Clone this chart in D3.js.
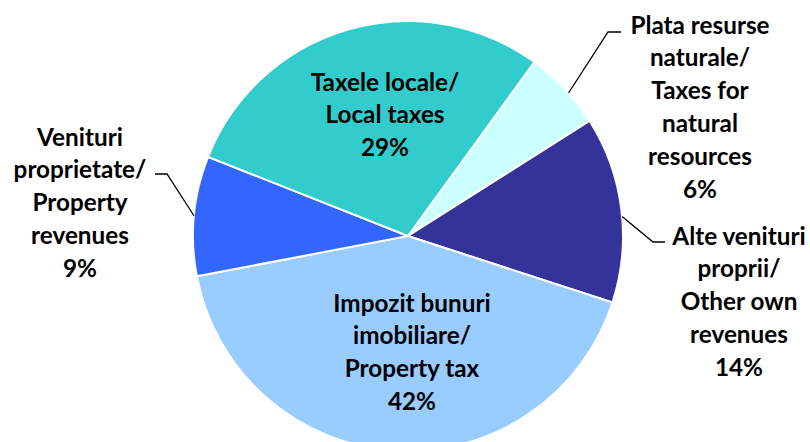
<!DOCTYPE html>
<html>
<head>
<meta charset="utf-8">
<script src="https://cdn.jsdelivr.net/npm/d3@7"></script>
<style>
html,body{margin:0;padding:0;background:#fff;}
svg{display:block;}
</style>
</head>
<body>
<svg id="chart" width="810" height="442"></svg>
<script>
// Data (clockwise order starting after "Taxele locale")
const categories = [
  ["Plata resurse", "naturale/", "Taxes for", "natural", "resources"],
  ["Alte venituri", "proprii/", "Other own", "revenues"],
  ["Impozit bunuri", "imobiliare/", "Property tax"],
  ["Venituri", "proprietate/", "Property", "revenues"],
  ["Taxele locale/", "Local taxes"]
];
const values = [6, 14, 42, 9, 29];
const percentLabels = ["6%", "14%", "42%", "9%", "29%"];
const colors = ["#CCFFFF", "#333399", "#99CCFF", "#3366FF", "#33CCCC"];

const svg = d3.select("#chart");
const cx = 408, cy = 236, R = 215;
const startDeg = 36;

const pie = d3.pie().sort(null).value(d => d)
  .startAngle(startDeg * Math.PI / 180)
  .endAngle((startDeg + 360) * Math.PI / 180);
const arcs = pie(values);
const arc = d3.arc().innerRadius(0).outerRadius(R);

const g = svg.append("g").attr("transform", `translate(${cx},${cy})`);
g.selectAll("path.slice").data(arcs).enter().append("path")
  .attr("class", "slice")
  .attr("d", arc)
  .attr("fill", (d, i) => colors[i])
  .attr("stroke", "#fff")
  .attr("stroke-width", 2);

// label placements (layout only)
const labelPos = [
  {x: 700, y: 25},
  {x: 739, y: 236},
  {x: 412, y: 303},
  {x: 80, y: 137},
  {x: 385, y: 82}
];
const lineH = 32.8;
const fontSize = 24.3;

arcs.forEach((a, i) => {
  const lines = categories[i].concat([percentLabels[i]]);
  const p = labelPos[i];
  const t = svg.append("text")
    .attr("text-anchor", "middle")
    .attr("font-family", "Lato, 'Open Sans', sans-serif")
    .attr("font-weight", "bold")
    .attr("font-size", fontSize)
    .attr("fill", "#000");
  lines.forEach((ln, k) => {
    t.append("tspan").attr("x", p.x).attr("y", p.y + k * lineH).attr("dy", "0.35em").text(ln);
  });
});

// leader lines: from arc edge point to elbow to label
function edgePoint(a, fracAngle) {
  const ang = a.startAngle + (a.endAngle - a.startAngle) * fracAngle;
  return [cx + R * Math.sin(ang), cy - R * Math.cos(ang)];
}
const leaders = [
  {i: 0, frac: 0.57, elbow: [608, 32], end: [621, 32]},
  {i: 1, frac: 0.54, elbow: [653, 242], end: [665, 242]},
  {i: 3, frac: 0.5, elbow: [167, 174], end: [155, 174]}
];
leaders.forEach(l => {
  const p0 = edgePoint(arcs[l.i], l.frac);
  svg.append("path")
    .attr("d", d3.line()([p0, l.elbow, l.end]))
    .attr("fill", "none")
    .attr("stroke", "#000")
    .attr("stroke-width", 1.3);
});
</script>
</body>
</html>
